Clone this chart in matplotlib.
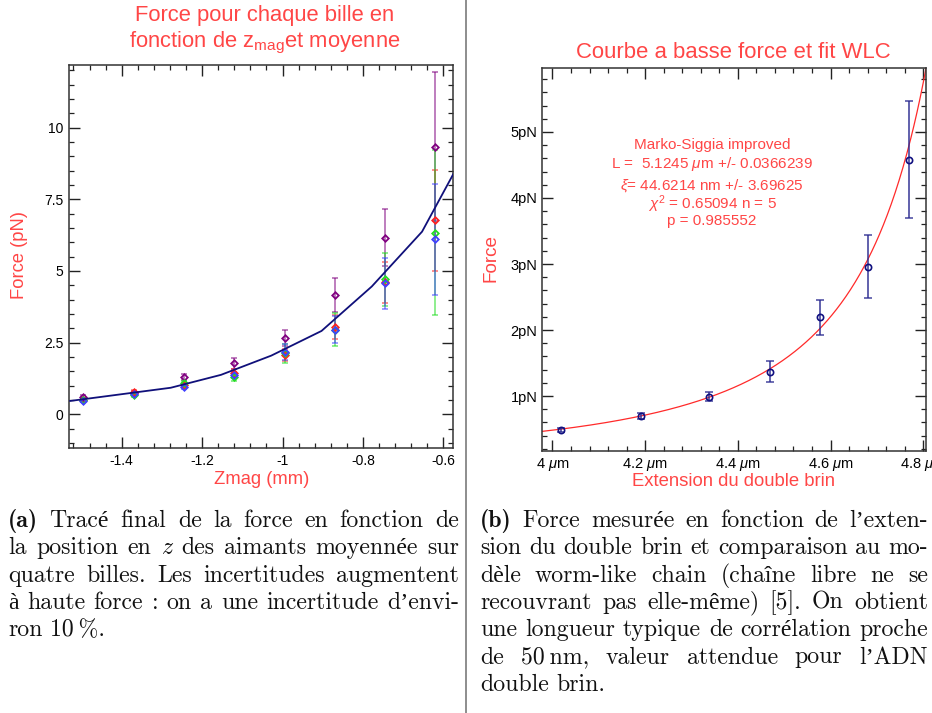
import matplotlib
matplotlib.use('Agg')
import matplotlib.pyplot as plt
import numpy as np
from matplotlib.lines import Line2D
from matplotlib.ticker import FixedLocator, MultipleLocator

plt.rcParams['font.family'] = ['Liberation Sans', 'DejaVu Sans']
plt.rcParams['mathtext.fontset'] = 'custom'
plt.rcParams['mathtext.rm'] = 'Liberation Sans'
plt.rcParams['mathtext.it'] = 'Liberation Sans:italic'
plt.rcParams['mathtext.bf'] = 'Liberation Sans:bold'

W, H = 932, 713
RED = '#ff4646'
SERIF_RM = ['cmr10', 'Liberation Serif', 'DejaVu Serif']
SERIF_BF = ['cmb10', 'Liberation Serif', 'DejaVu Serif']
SERIF_IT = ['cmmi10', 'Liberation Serif', 'DejaVu Serif']

# --- (a) force per bead vs magnet position ---
zmag = [-1.495, -1.37, -1.245, -1.12, -0.995, -0.87, -0.745, -0.62]
f_purple = [0.62, 0.75, 1.31, 1.78, 2.67, 4.16, 6.16, 9.33]
e_purple = [0.06, 0.06, 0.10, 0.18, 0.29, 0.58, 0.99, 2.59]
f_red = [0.50, 0.79, 1.02, 1.45, 2.07, 3.05, 4.60, 6.76]
e_red = [0.05, 0.06, 0.08, 0.12, 0.21, 0.42, 0.72, 1.75]
f_green = [0.52, 0.67, 1.08, 1.29, 2.13, 2.96, 4.71, 6.34]
e_green = [0.05, 0.06, 0.08, 0.12, 0.33, 0.58, 0.93, 2.88]
f_blue = [0.48, 0.71, 0.96, 1.37, 2.18, 2.96, 4.57, 6.11]
e_blue = [0.05, 0.06, 0.08, 0.10, 0.27, 0.47, 0.89, 1.93]

mean_z = [-1.528, -1.403, -1.278, -1.153, -1.028, -0.903, -0.778, -0.653, -0.528]
mean_f = [0.47, 0.70, 0.93, 1.38, 2.05, 2.91, 4.46, 6.37, 9.60]

# --- (b) low force curve + WLC fit ---
ext = [4.018, 4.191, 4.338, 4.470, 4.578, 4.680, 4.770]
force = [0.485, 0.70, 0.99, 1.37, 2.19, 2.96, 4.58]
force_err = [0.03, 0.05, 0.07, 0.16, 0.265, 0.48, 0.89]

L_fit = 5.1245      # um
xi_fit = 44.6214    # nm
kT = 4.11           # pN nm
ms_coef = [-0.5164228, -2.737418, 16.07497, -38.87607, 39.49944, -14.17718]

fit_lines = ['Marko-Siggia improved',
             r'L =  5.1245 $\mu$m +/- 0.0366239',
             r'$\xi$= 44.6214 nm +/- 3.69625',
             r'$\chi^2$ = 0.65094 n = 5',
             'p = 0.985552']

caption_a = ['(a) Tracé final de la force en fonction de',
             'la position en z des aimants moyennée sur',
             'quatre billes. Les incertitudes augmentent',
             'à haute force : on a une incertitude d’envi-',
             'ron 10\u2009%.']
caption_b = ['(b) Force mesurée en fonction de l’exten-',
             'sion du double brin et comparaison au mo-',
             'dèle worm-like chain (chaîne libre ne se',
             'recouvrant pas elle-même) [5]. On obtient',
             'une longueur typique de corrélation proche',
             'de 50\u2009nm, valeur attendue pour l’ADN',
             'double brin.']


def fx(x):
    return x / W


def fy(y):
    return 1 - y / H


def style(ax):
    ax.tick_params(which='both', direction='in', top=True, right=True,
                   labelsize=10, color='#222222')
    ax.tick_params(which='major', length=8, width=1, pad=4)
    ax.tick_params(which='minor', length=3.5, width=0.9)
    for s in ax.spines.values():
        s.set_linewidth(1.1)
        s.set_color('#333333')


def wlc(x):
    z = np.asarray(x) / L_fit
    poly = sum(a * z ** (i + 2) for i, a in enumerate(ms_coef))
    return kT / xi_fit * (0.25 / (1 - z) ** 2 - 0.25 + z + poly)


fig = plt.figure(figsize=(W / 100, H / 100), dpi=100)

# left panel
ax1 = fig.add_axes([fx(69), fy(448), 384 / W, 383 / H])
beads = [(f_purple, e_purple, '#800080'), (f_red, e_red, '#ff2020'),
         (f_green, e_green, '#22dd22'), (f_blue, e_blue, '#4040ff')]
for vals, errs, col in beads:
    eb = ax1.errorbar(zmag, vals, yerr=errs, fmt='D', ms=3.3, mfc='none', mec=col,
                      mew=1.3, ecolor=col, elinewidth=1.3, capsize=2.5, capthick=1.3)
    for c in eb[1]:
        c.set_alpha(0.55)
    for b in eb[2]:
        b.set_alpha(0.55)
ax1.plot(mean_z, mean_f, color='#10107a', lw=1.3, zorder=5)
ax1.set_xlim(-1.531, -0.576)
ax1.set_ylim(-1.17, 12.18)
ax1.xaxis.set_major_locator(FixedLocator([-1.4, -1.2, -1.0, -0.8, -0.6]))
ax1.set_xticklabels(['-1.4', '-1.2', '-1', '-0.8', '-0.6'])
ax1.xaxis.set_minor_locator(MultipleLocator(0.04))
ax1.yaxis.set_major_locator(FixedLocator([0, 2.5, 5, 7.5, 10]))
ax1.set_yticklabels(['0', '2.5', '5', '7.5', '10'])
ax1.yaxis.set_minor_locator(MultipleLocator(0.5))
style(ax1)

fig.text(fx(265), fy(16), 'Force pour chaque bille en', color=RED, fontsize=15.8,
         ha='center', va='center')
fig.text(fx(265), fy(43), r'fonction de z$_\mathregular{mag}$et moyenne', color=RED,
         fontsize=15.8, ha='center', va='center')
fig.text(fx(20), fy(255), 'Force (pN)', color=RED, fontsize=13.2, rotation=90,
         ha='center', va='center')
fig.text(fx(262), fy(479), 'Zmag (mm)', color=RED, fontsize=13.2,
         ha='center', va='center')

# right panel
ax2 = fig.add_axes([fx(542.3), fy(451), 383.7 / W, 383.3 / H])
xs = np.linspace(3.97, 4.812, 500)
ax2.plot(xs, wlc(xs), color='#ff2a2a', lw=0.9)
eb = ax2.errorbar(ext, force, yerr=force_err, fmt='o', ms=4.5, mfc='none', mec='#101080',
                  mew=1.2, ecolor='#2a2a90', elinewidth=1.3, capsize=3, capthick=1.3,
                  zorder=4)
for c in eb[1]:
    c.set_alpha(0.8)
for b in eb[2]:
    b.set_alpha(0.8)
ax2.set_xlim(3.978, 4.806)
ax2.set_ylim(0.167, 5.974)
ax2.xaxis.set_major_locator(FixedLocator([4.0, 4.2, 4.4, 4.6, 4.8]))
ax2.set_xticklabels([r'4 $\mu$m', r'4.2 $\mu$m', r'4.4 $\mu$m', r'4.6 $\mu$m',
                     r'4.8 $\mu$m'])
ax2.xaxis.set_minor_locator(MultipleLocator(0.04))
ax2.yaxis.set_major_locator(FixedLocator([1, 2, 3, 4, 5]))
ax2.set_yticklabels(['1pN', '2pN', '3pN', '4pN', '5pN'])
ax2.yaxis.set_minor_locator(MultipleLocator(0.2))
style(ax2)
ax2.tick_params(which='major', labelsize=10.5, pad=3.5)

for txt, y in zip(fit_lines, [145, 164, 186, 204, 221]):
    fig.text(fx(712), fy(y), txt, color=RED, fontsize=11, ha='center', va='center')

fig.text(fx(733), fy(52), 'Courbe a basse force et fit WLC', color=RED, fontsize=15.9,
         ha='center', va='center')
fig.text(fx(491), fy(258), 'Force', color=RED, fontsize=13.6, rotation=90,
         ha='center', va='center')
fig.text(fx(734), fy(481), 'Extension du double brin', color=RED, fontsize=13.3,
         ha='center', va='center')

# column separator
fig.add_artist(Line2D([fx(466), fx(466)], [0, 1], transform=fig.transFigure,
                      color='#7a7a7a', lw=1.2))

# justified captions, computer modern look
renderer = fig.canvas.get_renderer()


def tokens(line):
    out = []
    for w in line.split(' '):
        fam = SERIF_RM
        if w in ('(a)', '(b)'):
            fam = SERIF_BF
        elif w == 'z':
            fam = SERIF_IT
        out.append((w, fam))
    return out


def place_words(line, y, size):
    arts = [fig.text(0, y, w, fontsize=size, family=fam, ha='left', va='baseline',
                     color='#111111') for w, fam in tokens(line)]
    widths = [t.get_window_extent(renderer).width for t in arts]
    return arts, widths


def space_px(size):
    return size * 0.333 * 100 / 72


# pick the size at which the tightest full line just fits its column
S0 = 16
ratios = []
for lines, width in ((caption_a, 451), (caption_b, 448)):
    for line in lines[:-1]:
        arts, widths = place_words(line, 0, S0)
        nat = sum(widths) + (len(arts) - 1) * space_px(S0)
        ratios.append(width / nat)
        for t in arts:
            t.remove()
CAP_SIZE = S0 * min(ratios)


def caption(lines, x0, x1, base0, step):
    for i, line in enumerate(lines):
        arts, widths = place_words(line, fy(base0 + i * step), CAP_SIZE)
        if i == len(lines) - 1 or len(arts) == 1:
            gap = space_px(CAP_SIZE)
        else:
            gap = (x1 - x0 - sum(widths)) / (len(arts) - 1)
        x = x0
        for t, w in zip(arts, widths):
            t.set_x(fx(x))
            x += w + gap


caption(caption_a, 8, 459, 527, 27.3)
caption(caption_b, 480, 928, 527, 27.3)

fig.savefig('out.png', dpi=100)
